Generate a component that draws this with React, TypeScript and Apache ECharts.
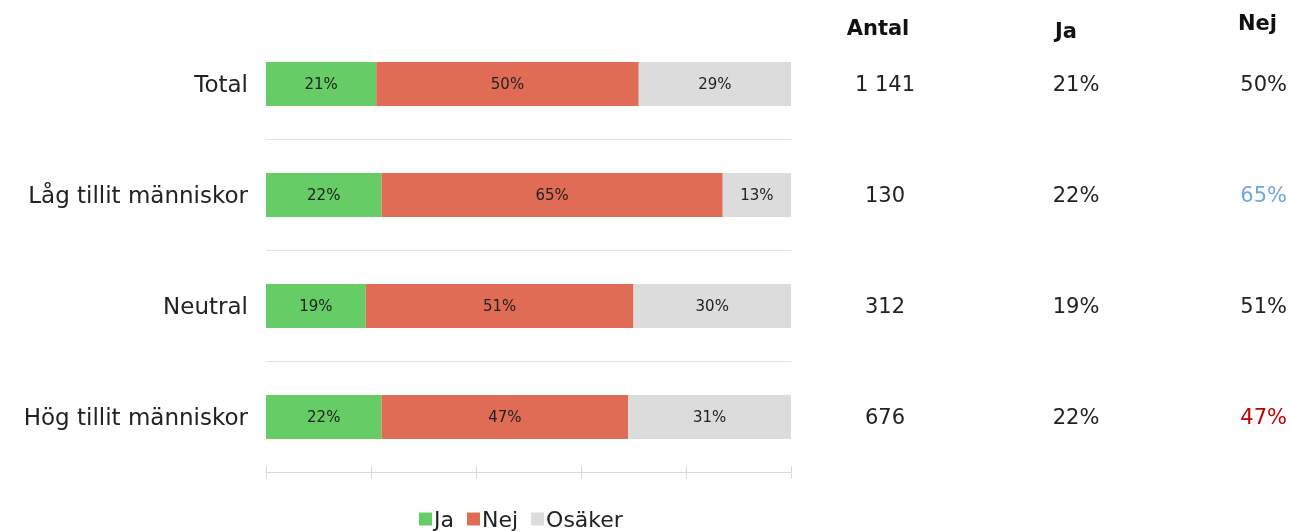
import React, { useEffect, useRef } from "react";
import * as echarts from "echarts";

const categories = ["Total", "Låg tillit människor", "Neutral", "Hög tillit människor"];
const jaValues = [21, 22, 19, 22];
const nejValues = [50, 65, 51, 47];
const osakerValues = [29, 13, 30, 31];
const antalLabels = ["1 141", "130", "312", "676"];
const seriesNames = ["Ja", "Nej", "Osäker"];
const headerLabels = ["Antal", "Ja", "Nej"];
const xTicks = [0, 100, 20]; // min, max, interval

const FONT = "DejaVu Sans";
const COLORS = ["#66CC66", "#E06C55", "#DCDCDC"];
const nejColors = ["#222222", "#6FA8DC", "#222222", "#C00000"];

export default function App() {
  const ref = useRef<HTMLDivElement>(null);
  useEffect(() => {
    if (!ref.current) return;
    const chart = echarts.init(ref.current, null, { renderer: "svg" });
    const pct = (v: number) => `${v}%`;
    const barSeries = [jaValues, nejValues, osakerValues].map((vals, i) => ({
      name: seriesNames[i],
      type: "bar",
      stack: "s",
      barWidth: 44,
      data: vals,
      itemStyle: { color: COLORS[i] },
      label: {
        show: true,
        position: "inside",
        formatter: (p: any) => pct(p.value),
        color: "#222",
        fontFamily: FONT,
        fontSize: 15,
      },
    }));
    const tableAxis = (data: any[], margin: number, align: string) => ({
      type: "category",
      position: "right",
      inverse: true,
      data,
      axisLine: { show: false },
      axisTick: { show: false },
      splitLine: { show: false },
      axisLabel: { margin, align, color: "#222", fontFamily: FONT, fontSize: 21 },
    });
    const headStyle = { fontFamily: FONT, fontSize: 21, fontWeight: "bold", color: "#111" };
    chart.setOption({
      animation: false,
      textStyle: { fontFamily: FONT },
      title: [
        { text: headerLabels[0], left: 878, top: 17, padding: 0, textAlign: "center", textStyle: headStyle },
        { text: headerLabels[1], left: 1066, top: 20, padding: 0, textAlign: "center", textStyle: headStyle },
        { text: headerLabels[2], right: 14, top: 12, padding: 0, textStyle: headStyle },
      ],
      legend: {
        left: 419,
        top: 508,
        padding: 0,
        icon: "rect",
        itemWidth: 13,
        itemHeight: 13,
        itemGap: 13,
        data: seriesNames,
        textStyle: { fontFamily: FONT, fontSize: 22, color: "#222", padding: [0, 0, 0, -3] },
      },
      grid: { left: 266, right: 500, top: 28.5, bottom: 58.5, containLabel: false, outerBoundsMode: "none" },
      xAxis: [
        {
          type: "value",
          min: xTicks[0],
          max: xTicks[1],
          interval: xTicks[2],
          axisLabel: { show: false },
          splitLine: { show: false },
          axisLine: { show: true, lineStyle: { color: "#D9D9D9", width: 1 } },
          axisTick: { show: true, inside: false, length: 6, lineStyle: { color: "#D9D9D9" } },
        },
        {
          type: "value",
          position: "bottom",
          min: xTicks[0],
          max: xTicks[1],
          interval: xTicks[2],
          axisLabel: { show: false },
          splitLine: { show: false },
          axisLine: { show: false },
          axisTick: { show: true, inside: true, length: 6, lineStyle: { color: "#D9D9D9" } },
        },
      ],
      yAxis: [
        {
          type: "category",
          inverse: true,
          data: categories,
          axisLine: { show: false },
          axisTick: { show: false },
          splitLine: { show: true, interval: (i: number) => i > 0, lineStyle: { color: "#E3E3E3", width: 1 } },
          axisLabel: { margin: 18, color: "#222", fontFamily: FONT, fontSize: 23 },
        },
        tableAxis(antalLabels, 94, "center"),
        tableAxis(jaValues.map(pct), 285, "center"),
        tableAxis(
          nejValues.map((v, i) => ({
            value: pct(v),
            textStyle: { color: nejColors[i], align: "right", fontFamily: FONT, fontSize: 21 },
          })),
          496,
          "right"
        ),
      ],
      series: barSeries,
    });
    return () => chart.dispose();
  }, []);
  return <div ref={ref} style={{ position: "fixed", left: 0, top: 0, width: 1291, height: 531 }} />;
}
